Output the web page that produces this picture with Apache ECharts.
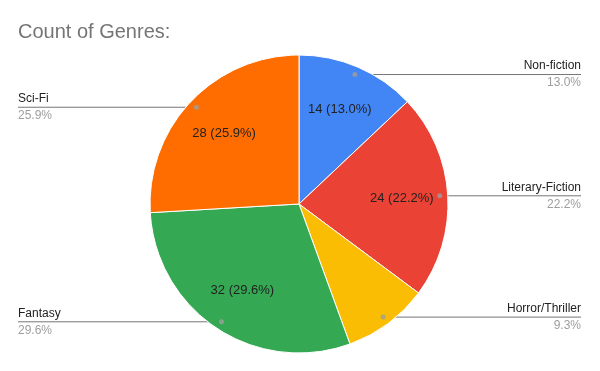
<!DOCTYPE html>
<html><head><meta charset="utf-8">
<script src="https://cdn.jsdelivr.net/npm/echarts@6/dist/echarts.min.js"></script>
<style>html,body{margin:0;padding:0;background:#fff}#c{width:600px;height:371px}</style>
</head><body><div id="c"></div>
<script>
const titleText = 'Count of Genres:';
const categories = ['Non-fiction', 'Literary-Fiction', 'Horror/Thriller', 'Fantasy', 'Sci-Fi'];
const values = [14, 24, 10, 32, 28];
const colors = ['#4285F4', '#EA4335', '#FBBC04', '#34A853', '#FF6D01'];
const showInside = [true, true, false, true, true];

const total = values.reduce((a, b) => a + b, 0);
const pct = v => (v / total * 100).toFixed(1);
const CX = 299, CY = 204, R = 149, DOT_R = 141;
const FONT = '"Liberation Sans", Arial, sans-serif';

const chart = echarts.init(document.getElementById('c'), null, {renderer: 'canvas'});
const W = 600;

const pieData = categories.map((n, i) => ({name: n, value: values[i], itemStyle: {color: colors[i]}}));
const innerData = categories.map((n, i) => ({name: n, value: values[i], label: {show: showInside[i]}}));

// mid angles for the leader dots
let cum = 0;
const dotData = values.map(v => { const m = cum + v / 2; cum += v; return [DOT_R, m]; });

chart.setOption({
  animation: false,
  title: {
    text: titleText, left: 18, top: 22, padding: 0,
    textStyle: {fontSize: 20, fontWeight: 'normal', color: '#757575', fontFamily: FONT}
  },
  polar: {center: [CX, CY], radius: R},
  angleAxis: {type: 'value', min: 0, max: total, startAngle: 90, clockwise: true, show: false},
  radiusAxis: {type: 'value', min: 0, max: R, show: false},
  series: [
    {
      type: 'pie', center: [CX, CY], radius: [0, R], startAngle: 90, clockwise: true,
      silent: true, label: {show: false}, labelLine: {show: false},
      itemStyle: {borderColor: '#fff', borderWidth: 1},
      data: pieData, emphasis: {disabled: true}
    },
    {
      type: 'pie', center: [CX, CY], radius: [51, R], startAngle: 90, clockwise: true,
      silent: true, itemStyle: {color: 'transparent'}, emphasis: {disabled: true},
      labelLine: {show: false},
      label: {
        show: true, position: 'inside', fontSize: 13, color: '#222', fontFamily: FONT,
        formatter: p => p.value + ' (' + pct(p.value) + '%)'
      },
      data: innerData
    },
    {
      type: 'pie', center: [CX, CY], radius: [0, DOT_R], startAngle: 90, clockwise: true,
      silent: true, itemStyle: {color: 'transparent'}, emphasis: {disabled: true},
      label: {
        show: true, position: 'outside',
        formatter: p => '{a|' + p.name + '}\n{b|' + pct(p.value) + '%}',
        rich: {
          a: {fontSize: 12, color: '#222', fontFamily: FONT, lineHeight: 17},
          b: {fontSize: 12, color: '#9e9e9e', fontFamily: FONT, lineHeight: 17}
        }
      },
      labelLine: {show: true, length: 0, length2: 0, lineStyle: {color: '#757575', width: 1}},
      labelLayout: function (params) {
        const pts = params.labelLinePoints;
        if (!pts) return {};
        const p0 = pts[0];
        const right = p0[0] >= CX;
        const ex = right ? W - 19 : 18;
        return {
          x: ex, y: p0[1], align: right ? 'right' : 'left', verticalAlign: 'middle',
          labelLinePoints: [[p0[0], p0[1]], [ex, p0[1]], [ex, p0[1]]]
        };
      },
      data: pieData.map(d => ({name: d.name, value: d.value}))
    },
    {
      type: 'scatter', coordinateSystem: 'polar', silent: true,
      symbol: 'circle', symbolSize: 5, itemStyle: {color: '#9e9e9e'},
      data: dotData, z: 10
    }
  ]
});
</script>
</body></html>
